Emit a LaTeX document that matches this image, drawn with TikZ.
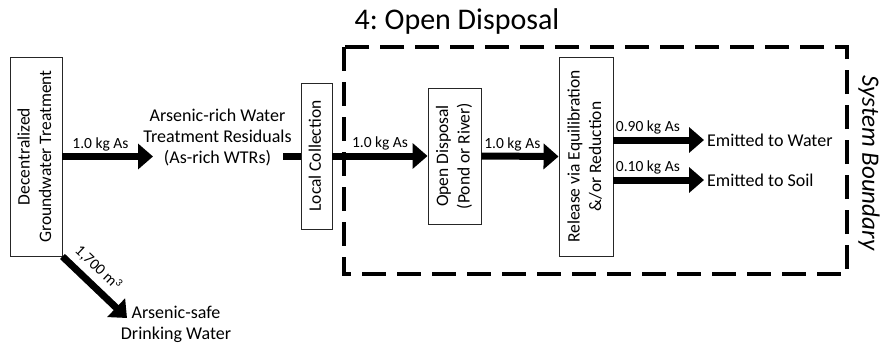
\documentclass[tikz,border=0pt]{standalone}
\usepackage{fontspec}
\setmainfont{Carlito}
\usepackage{graphicx}
\usepackage{tikz}
\usetikzlibrary{arrows.meta}
\newcommand{\vtext}[1]{\rotatebox{90}{\begin{tabular}{@{}c@{}}#1\end{tabular}}}
\frenchspacing

\begin{document}
\begin{tikzpicture}[x=1pt,y=-1pt,
		procbox/.style={draw=black!85, line width=0.9pt, fill=white, inner sep=0pt, font=\fontsize{17.5}{21.5}\selectfont},
		txt/.style={align=center, inner sep=0pt, font=\fontsize{18}{21}\selectfont},
		flow/.style={line width=7pt, -{Triangle[width=25pt,length=15pt]}},
		flowline/.style={line width=7pt},
		qty/.style={above=1pt, inner sep=1pt, font=\fontsize{15.5}{18}\selectfont},
		boundary/.style={draw, line width=4pt, dash pattern=on 24pt off 11pt}]
	\useasboundingbox (0,0) rectangle (880,343);
	% system boundary
	\draw[boundary] (344,47) rectangle (847,274);
	\node[font=\fontsize{30}{36}\selectfont] (ttl) at (457,22) {4: Open Disposal};
	\node[rotate=-90, font=\fontsize{25}{30}\selectfont\itshape] (sysb) at (869,163) {System Boundary};
	% process boxes
	\node[procbox, minimum width=52pt, minimum height=199pt] (gwt) at (36,156.5) {\vtext{Decentralized\\Groundwater Treatment}};
	\node[procbox, minimum width=31pt, minimum height=146pt] (lc) at (316.5,156) {\vtext{Local Collection}};
	\node[procbox, minimum width=53pt, minimum height=136pt] (od) at (454.5,156) {\vtext{Open Disposal\\(Pond or River)}};
	\node[procbox, minimum width=54pt, minimum height=199pt] (rel) at (586,156.5) {\vtext{Release via Equilibration\\\&/or Reduction}};
	% plain texts
	\node[txt] (wtr) at (217.5,137) {Arsenic-rich Water\\Treatment Residuals\\(As-rich WTRs)};
	\node[txt] (safe) at (176,324) {Arsenic-safe\\Drinking Water};
	\node[txt, anchor=west] (ewat) at (707,140) {Emitted to Water};
	\node[txt, anchor=west] (esoil) at (707,180) {Emitted to Soil};
	\coordinate (wtrin) at (153,156.5);
	\coordinate (wtrout) at (283,156);
	\coordinate (safein) at (127,318);
	% flows
	\draw[flow] (gwt.east) -- node[qty, pos=0.42] {1.0 kg As} (wtrin);
	\draw[flow] (gwt.south east) -- node[sloped, above=5pt, pos=0.38, inner sep=1pt, font=\fontsize{15.5}{18}\selectfont] {1,700 m\textsuperscript{3}} (safein);
	\draw[flowline] (wtrout) -- (lc.west);
	\draw[flow] (lc.east) -- node[qty] {1.0 kg As} (od.west);
	\draw[flow] (od.east) -- node[qty, pos=0.4] {1.0 kg As} (rel.west);
	\draw[flow] (rel.east |- ewat.west) -- node[qty, pos=0.38] {0.90 kg As} ([xshift=-3pt]ewat.west);
	\draw[flow] (rel.east |- esoil.west) -- node[qty, pos=0.38] {0.10 kg As} ([xshift=-3pt]esoil.west);
\end{tikzpicture}
\end{document}
